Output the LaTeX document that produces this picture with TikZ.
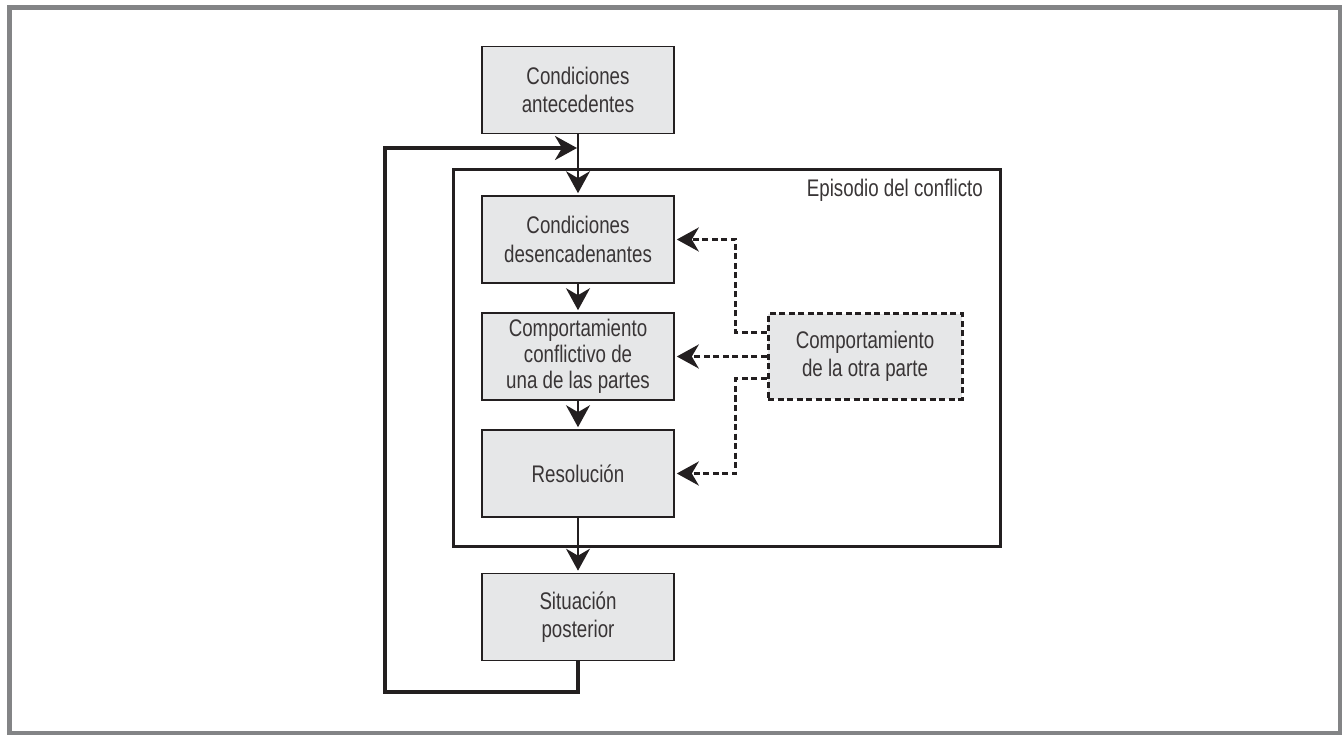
\documentclass[tikz,border=0pt]{standalone}
\usepackage{fontspec}
\setmainfont{Liberation Sans}[FakeStretch=0.78]
\usetikzlibrary{arrows.meta,calc}
\definecolor{framegray}{HTML}{838486}
\definecolor{boxfill}{HTML}{E6E7E8}
\definecolor{ink}{HTML}{231F20}
\begin{document}
\begin{tikzpicture}[x=1pt,y=-1pt,
  every node/.style={font=\fontsize{24}{28.5}\selectfont, text=ink!90},
  stagebox/.style={draw=ink, line width=1.6pt, fill=boxfill, minimum width=192pt, minimum height=87pt, inner sep=0pt, align=center},
  otherbox/.style={stagebox, draw=ink, dash pattern=on 6pt off 3.5pt, line width=3pt, minimum width=194pt, minimum height=85pt},
  bigtip/.style={-{Stealth[length=22pt,width=24pt,inset=7pt]}},
  flow/.style={bigtip, draw=ink, line width=2pt, shorten >=2pt},
  dasharrow/.style={bigtip, draw=ink, line width=3pt, dash pattern=on 6pt off 3.5pt, shorten >=2pt},
  loopline/.style={draw=ink, line width=3.2pt}
]
\useasboundingbox (0,0) rectangle (1342,735);
\draw[framegray, line width=5pt] (9.5,7.5) rectangle (1340,733.5);

% episode frame
\node[draw=ink, line width=3.2pt, minimum width=547pt, minimum height=377pt, inner sep=0pt, anchor=north west] (ep) at (452,168) {};
\node[anchor=base east, inner sep=0pt] (eplab) at (983,197) {Episodio del conflicto};

% stage boxes
\node[stagebox] (b1) at (578,90) {Condiciones\\antecedentes};
\node[stagebox] (b2) at (578,239.5) {Condiciones\\desencadenantes};
\node[stagebox, font=\fontsize{24}{26}\selectfont] (b3) at (578,356.5) {Comportamiento\\conflictivo de\\una de las partes};
\node[stagebox] (b4) at (578,473.5) {Resoluci\'on};
\node[stagebox] (b5) at (578,617) {Situaci\'on\\posterior};
\node[otherbox] (o) at (865,356.5) {Comportamiento\\de la otra parte};

% main flow
\coordinate (j) at (b1.south |- 0,148);
\draw[flow] (b1.south) -- (b2.north);
\draw[flow] (b2.south) -- (b3.north);
\draw[flow] (b3.south) -- (b4.north);
\draw[flow] (b4.south) -- (b5.north);

% feedback loop
\coordinate (fl) at (385,692);
\coordinate (fu) at (385,148);
\draw[loopline] (b5.south) |- (fl) -- (fu) -- ([xshift=-8pt]j);
\draw[bigtip, draw=ink, line width=3.2pt] ([xshift=-10pt]j) -- ([xshift=-1pt]j);

% dashed influences
\draw[dasharrow] ([yshift=23.5pt]o.west) -- ++(-31,0) |- (b2.east);
\draw[dasharrow] (o.west) -- (b3.east);
\draw[dasharrow] ([yshift=-22.5pt]o.west) -- ++(-31,0) |- (b4.east);
\end{tikzpicture}
\end{document}
